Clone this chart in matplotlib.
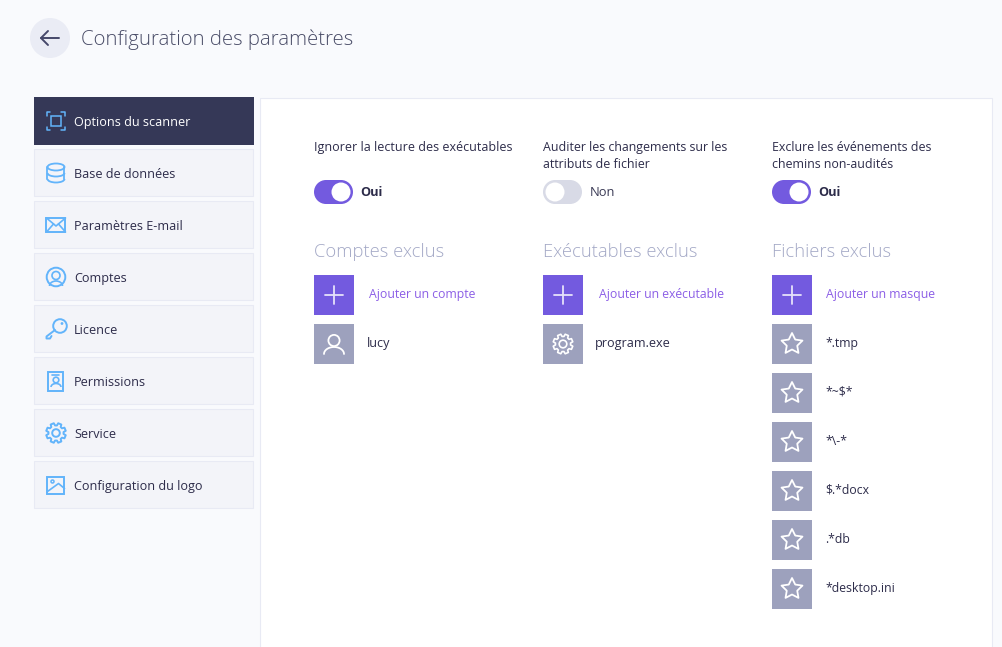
import numpy as np
import matplotlib
matplotlib.use("Agg")
import matplotlib.pyplot as plt
from matplotlib.patches import Rectangle, Circle, Polygon, Ellipse, Arc

plt.rcParams['font.family'] = ['Open Sans', 'Noto Sans', 'DejaVu Sans']

TITLE = "Configuration des paramètres"
MENU = ["Options du scanner", "Base de données", "Paramètres E-mail", "Comptes",
        "Licence", "Permissions", "Service", "Configuration du logo"]
MENU_ICONS = ["scan", "db", "mail", "user", "key", "badge", "gear", "image"]
TOGGLE_TITLES = [["Ignorer la lecture des exécutables"],
                 ["Auditer les changements sur les", "attributs de fichier"],
                 ["Exclure les événements des", "chemins non-audités"]]
TOGGLE_STATES = [True, False, True]
HEADERS = ["Comptes exclus", "Exécutables exclus", "Fichiers exclus"]
ADD_LABELS = ["Ajouter un compte", "Ajouter un exécutable", "Ajouter un masque"]
ACCOUNTS = ["lucy"]
EXECUTABLES = ["program.exe"]
MASKS = ["*.tmp", "*~$*", "*\\-*", "$.*docx", ".*db", "*desktop.ini"]

BG = "#f9fafd"; DARK = "#353857"; BLUE = "#62b4fb"; PURPLE = "#735adf"; GREY = "#9da1bd"
INK = "#2d2c4a"; LINE = "#e8eaf4"; ROW = "#f3f4f9"; LINK = "#8c5fe6"; HEAD = "#a3a8c6"

W, H = 1002, 647
fig = plt.figure(figsize=(W / 100, H / 100), dpi=100, facecolor=BG)
ax = fig.add_axes([0, 0, 1, 1])
ax.set_xlim(0, W); ax.set_ylim(H, 0); ax.axis("off")

def rect(x, y, w, h, fc, ec="none", lw=0, z=1):
    ax.add_patch(Rectangle((x, y), w, h, fc=fc, ec=ec, lw=lw, zorder=z))

def line(xs, ys, c, lw=1.3, z=4):
    ax.plot(xs, ys, color=c, lw=lw, solid_capstyle="round", solid_joinstyle="round", zorder=z)

def circ(x, y, r, c, lw=1.3, fc="none", z=4):
    ax.add_patch(Circle((x, y), r, fc=fc, ec=c, lw=lw, zorder=z))

def txt(x, y, s, size=9.0, c=INK, **kw):
    ax.text(x, y, s, fontsize=size, color=c, va="baseline", ha="left", zorder=6, **kw)

def gear(cx, cy, c, R=10, lw=1.3):
    a = np.linspace(0, 2 * np.pi, 8, endpoint=False) + np.pi / 8
    pts = []
    for t in a:
        for d, r in ((-0.27, R * 0.76), (-0.17, R), (0.17, R), (0.27, R * 0.76)):
            pts.append((cx + r * np.cos(t + d), cy + r * np.sin(t + d)))
    ax.add_patch(Polygon(pts, closed=True, fc="none", ec=c, lw=lw, joinstyle="round", zorder=4))
    circ(cx, cy, R * 0.38, c, lw)

def person(cx, cy, c, lw=1.3):
    circ(cx, cy - 3.5, 5.6, c, lw)
    t = np.linspace(np.pi, 2 * np.pi, 30)
    ax.plot(cx + 10 * np.cos(t), cy + 10 + 7 * np.sin(t), color=c, lw=lw, zorder=4, solid_capstyle="round")

def star(cx, cy, c, R=11, lw=1.3):
    a = -np.pi / 2 + np.arange(10) * np.pi / 5
    r = np.where(np.arange(10) % 2 == 0, R, R * 0.5)
    ax.add_patch(Polygon(np.c_[cx + r * np.cos(a), cy + r * np.sin(a)], closed=True, fc="none",
                         ec=c, lw=lw, joinstyle="round", zorder=4))

def icon(kind, cx, cy):
    c = BLUE
    if kind == "scan":
        rect(cx - 5, cy - 5.5, 10.5, 10.5, "none", c, 1.1, 4)
        for sx, sy in ((-1, -1), (1, -1), (-1, 1), (1, 1)):
            line([cx + sx * 9, cx + sx * 9, cx + sx * 5.5], [cy + sy * 5.5, cy + sy * 9, cy + sy * 9], c, 1.1)
    elif kind == "db":
        ax.add_patch(Ellipse((cx, cy - 6), 17, 7, fc="none", ec=c, lw=1.3, zorder=4))
        line([cx - 8.5, cx - 8.5], [cy - 6, cy + 6], c)
        line([cx + 8.5, cx + 8.5], [cy - 6, cy + 6], c)
        for dy in (0, 6):
            ax.add_patch(Arc((cx, cy + dy), 17, 7, theta1=0, theta2=180, ec=c, lw=1.3, zorder=4))
    elif kind == "mail":
        rect(cx - 9.5, cy - 7, 19, 14, "none", c, 1.4, 4)
        line([cx - 9.5, cx, cx + 9.5], [cy - 7, cy + 1, cy - 7], c, 1.2)
        line([cx - 9.5, cx - 2.5], [cy + 7, cy - 1], c, 1.2)
        line([cx + 9.5, cx + 2.5], [cy + 7, cy - 1], c, 1.2)
    elif kind == "user":
        circ(cx, cy, 9.3, c, 1.4)
        circ(cx, cy - 1.5, 4, c, 1.2)
        ax.add_patch(Arc((cx, cy + 9), 13, 10, theta1=180, theta2=360, ec=c, lw=1.2, zorder=4))
    elif kind == "key":
        circ(cx + 4, cy - 3, 6.8, c, 1.4)
        circ(cx + 6, cy - 5.5, 0.7, c, 1.0)
        line([cx - 1, cx - 9.5, cx - 9.5, cx - 6, cx - 4.5],
             [cy + 1, cy + 7.5, cy + 9.5, cy + 9.5, cy + 7], c, 1.4)
    elif kind == "badge":
        rect(cx - 7.5, cy - 9.5, 15, 19, "none", c, 1.4, 4)
        line([cx - 3.5, cx + 3], [cy - 6, cy - 6], c, 1.2)
        circ(cx, cy - 1, 2.8, c, 1.2)
        ax.add_patch(Arc((cx, cy + 6), 10, 7, theta1=180, theta2=360, ec=c, lw=1.2, zorder=4))
    elif kind == "gear":
        gear(cx, cy, c, 10, 1.4)
    elif kind == "image":
        rect(cx - 8.5, cy - 8.5, 17, 17, "none", c, 1.4, 4)
        circ(cx - 3.5, cy - 3.5, 1.5, c, 1.1)
        line([cx - 8.5, cx + 2.5, cx + 8.5], [cy + 6.5, cy - 1.5, cy + 3.5], c, 1.2)

# header
circ(50, 38, 20, "none", 0, fc="#eaecf5", z=2)
line([41, 59], [38, 38], "#45486a", 1.4)
line([48, 41, 48], [31, 38, 45], "#45486a", 1.4)
txt(81, 45, TITLE, size=14.65, c="#4a4d68", fontweight="light")

# main panel
rect(260.5, 97.5, 731.5, 560, "white", LINE, 0.8, 1)

# sidebar
for i, (label, kind) in enumerate(zip(MENU, MENU_ICONS)):
    y = 97 + 52 * i
    if i == 0:
        rect(34, y, 220, 48, DARK, z=2)
    else:
        rect(34.5, y - 0.5, 219, 47.5, ROW, LINE, 0.8, 2)
    icon(kind, 56, y + 24)
    txt(74, y + 29, label, c="white" if i == 0 else INK, size=9.05)

# columns
COLS = [314, 543, 772]
ADD_TX = [369, 599, 826]
ITEM_TX = [367, 595, 825]
ITEM_SIZE = [9.1, 9.1, 8.85]
TITLE_SIZE = [8.98, 8.9, 8.9]
ITEMS = [ACCOUNTS, EXECUTABLES, MASKS]
for j, x in enumerate(COLS):
    for k, s in enumerate(TOGGLE_TITLES[j]):
        txt(x, 151 + 17 * k, s, size=TITLE_SIZE[j])
    on = TOGGLE_STATES[j]
    col = PURPLE if on else "#d8dae6"
    rect(x + 12, 180, 15, 24, col, z=2)
    circ(x + 12, 192, 12, "none", 0, fc=col, z=2)
    circ(x + 27, 192, 12, "none", 0, fc=col, z=2)
    circ(x + 27 if on else x + 12, 192, 9.5, "none", 0, fc="white", z=3)
    if on:
        txt(x + 46.5, 196, "Oui", size=9.2, fontweight="bold")
    else:
        txt(x + 47, 196, "Non", size=9.3, c="#3a3a55")
    txt(x, 257, HEADERS[j], size=13.25, c=HEAD, fontweight="light")
    rect(x, 275, 40, 40, PURPLE, z=2)
    line([x + 11, x + 29], [295, 295], "#e6e2fa", 1.3)
    line([x + 20, x + 20], [286, 304], "#e6e2fa", 1.3)
    txt(ADD_TX[j], 298, ADD_LABELS[j], size=8.83, c=LINK)
    for i, s in enumerate(ITEMS[j]):
        y = 324 + 49 * i
        rect(x, y, 40, 40, GREY, z=2)
        cx, cy = x + 20, y + 20
        if j == 0:
            person(cx, cy, "white")
        elif j == 1:
            gear(cx, cy, "white", 10, 1.2)
        else:
            star(cx, cy, "white")
        txt(ITEM_TX[j], y + 23, s, size=ITEM_SIZE[j])

fig.savefig("out.png", dpi=100, facecolor=BG)
